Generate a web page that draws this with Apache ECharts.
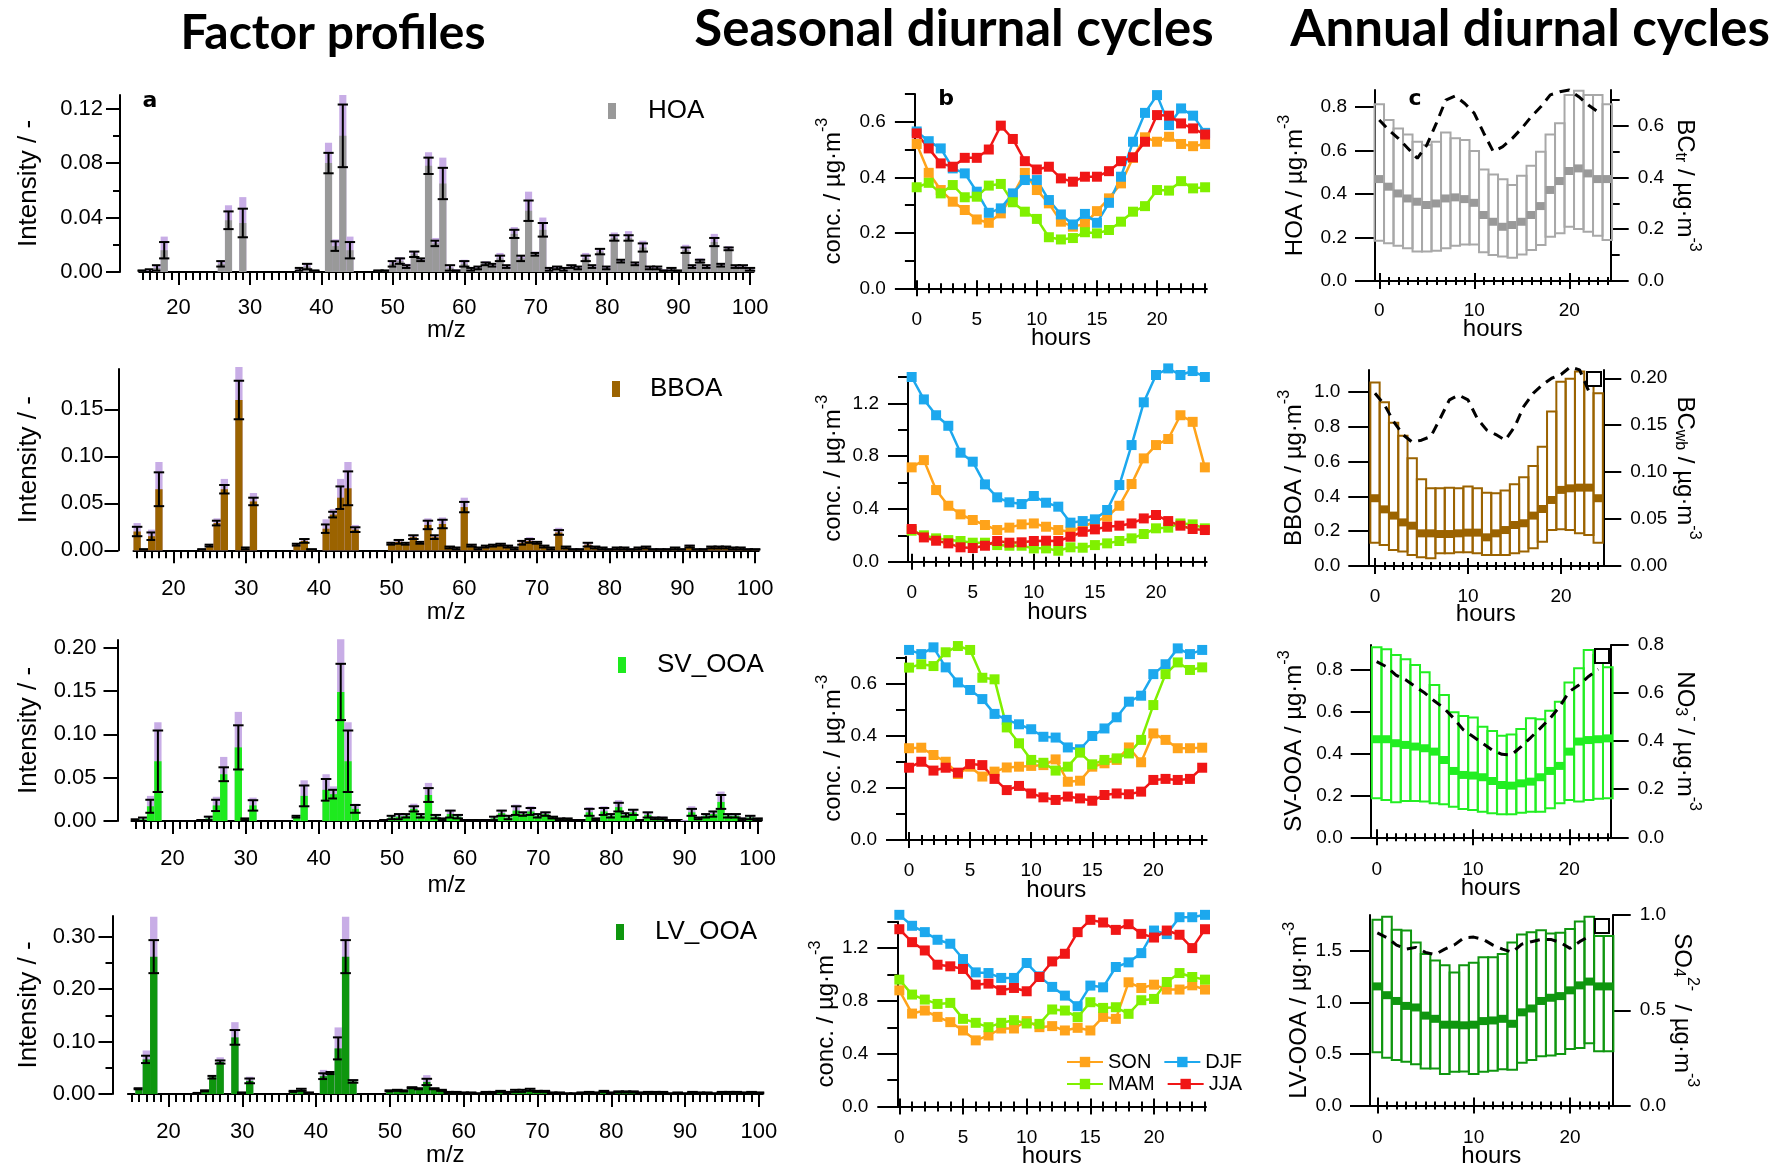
<!DOCTYPE html>
<html><head><meta charset="utf-8">
<script src="https://cdn.jsdelivr.net/npm/echarts@6/dist/echarts.min.js"></script>
<style>html,body{margin:0;padding:0;background:#fff}#c{width:1771px;height:1169px}</style>
</head><body><div id="c"></div>
<script>
// ---------------- DATA ----------------
const MZ = []; for (let m = 15; m <= 100; m++) MZ.push(m);
const HOURS = []; for (let h = 0; h <= 24; h++) HOURS.push(h);

// Factor profiles (m/z 15..100): value, error half-width, purple top
const HOA_val = [0.001,0.001,0.003,0.016,0,0,0,0,0,0, 0,0.006,0.038,0,0.036,0,0,0,0,0, 0,0,0.002,0.004,0.001,0,0.080,0.019,0.100,0.016, 0,0,0,0.001,0.001,0.006,0.008,0.004,0.013,0.009, 0.078,0.021,0.065,0.003,0.001,0.006,0.002,0.003,0.006,0.005, 0.010,0.004,0.028,0.010,0.045,0.013,0.031,0.002,0.003,0.002, 0.004,0.003,0.010,0.004,0.015,0.003,0.025,0.008,0.025,0.006, 0.018,0.003,0.003,0.001,0.002,0.001,0.016,0.004,0.008,0.004, 0.022,0.005,0.017,0.004,0.004,0.002];
const HOA_err = [0,0.001,0.002,0.006,0,0,0,0,0,0, 0,0.002,0.0065,0,0.0105,0,0,0,0,0, 0,0,0.001,0.002,0,0,0.0075,0.0035,0.023,0.006, 0,0,0,0,0,0.002,0.002,0.001,0.002,0.001, 0.006,0.002,0.0115,0.002,0,0.002,0.001,0.001,0.001,0.001, 0.002,0.001,0.003,0.002,0.0075,0.001,0.005,0.001,0.001,0.001, 0.001,0.001,0.002,0.001,0.002,0.001,0.002,0.001,0.002,0.001, 0.003,0.001,0.001,0,0.001,0,0.002,0.001,0.001,0.001, 0.003,0.001,0.001,0.001,0.001,0.001];
const HOA_top = [0.001,0.002,0.005,0.026,0,0,0,0,0,0, 0,0.008,0.049,0,0.055,0,0,0,0,0, 0,0,0.003,0.006,0.001,0,0.095,0.024,0.130,0.026, 0,0,0,0.001,0.001,0.008,0.011,0.006,0.015,0.010, 0.088,0.025,0.084,0.004,0.002,0.009,0.003,0.004,0.008,0.006, 0.014,0.005,0.033,0.012,0.059,0.015,0.040,0.003,0.004,0.003, 0.005,0.004,0.014,0.005,0.017,0.004,0.029,0.009,0.030,0.007, 0.023,0.004,0.004,0.002,0.003,0.001,0.020,0.005,0.010,0.005, 0.028,0.006,0.019,0.005,0.005,0.003];

const BBOA_val = [0.020,0.001,0.015,0.065,0,0,0,0,0,0.001, 0.005,0.029,0.065,0,0.160,0.002,0.052,0,0,0, 0,0,0.006,0.010,0.001,0,0.023,0.038,0.056,0.066, 0.022,0,0,0,0,0.007,0.009,0.007,0.014,0.008, 0.027,0.014,0.028,0.003,0.002,0.046,0.005,0.002,0.004,0.005, 0.006,0.004,0.002,0.008,0.010,0.008,0.004,0.002,0.019,0.003, 0.001,0.001,0.006,0.003,0.002,0.001,0.002,0.002,0.001,0.002, 0.003,0.001,0.001,0.001,0.002,0.001,0.004,0.001,0.001,0.003, 0.003,0.003,0.002,0.002,0.001,0.001];
const BBOA_err = [0.005,0,0.004,0.018,0,0,0,0,0,0, 0.001,0.0025,0.0045,0,0.0205,0.001,0.004,0,0,0, 0,0,0.001,0.002,0,0,0.0045,0.003,0.012,0.018, 0.0025,0,0,0,0,0.001,0.002,0.001,0.002,0.001, 0.0045,0.002,0.0045,0.001,0.001,0.0055,0.001,0.001,0.001,0.001, 0.001,0.001,0.001,0.002,0.002,0.001,0.001,0.001,0.0025,0.001, 0,0,0.002,0.001,0.001,0,0.001,0.001,0,0.001, 0.001,0,0,0,0.001,0,0.001,0,0,0.001, 0.001,0.001,0.001,0.001,0,0];
const BBOA_top = [0.029,0.001,0.022,0.094,0,0,0,0,0,0.001, 0.006,0.034,0.076,0,0.195,0.003,0.061,0,0,0, 0,0,0.007,0.013,0.001,0,0.033,0.044,0.076,0.094, 0.027,0,0,0,0,0.009,0.011,0.008,0.016,0.009, 0.034,0.016,0.035,0.004,0.003,0.056,0.006,0.003,0.005,0.006, 0.007,0.005,0.003,0.010,0.014,0.009,0.005,0.003,0.024,0.004, 0.002,0.002,0.008,0.004,0.003,0.002,0.003,0.003,0.002,0.003, 0.004,0.002,0.002,0.002,0.003,0.002,0.006,0.002,0.002,0.004, 0.004,0.004,0.003,0.003,0.002,0.001];

const SV_val = [0.001,0.002,0.017,0.069,0,0,0,0,0,0.001, 0.003,0.018,0.054,0,0.085,0.002,0.018,0,0,0, 0,0,0.005,0.029,0,0,0.036,0.031,0.149,0.069, 0.014,0,0,0,0.001,0.004,0.005,0.006,0.014,0.006, 0.030,0.005,0.002,0.008,0.005,0.001,0.001,0.001,0.001,0.003, 0.009,0.004,0.012,0.008,0.011,0.006,0.008,0.004,0.002,0.002, 0.001,0.001,0.010,0.002,0.011,0.006,0.016,0.007,0.010,0.001, 0.007,0.003,0.003,0.001,0.001,0,0.010,0.003,0.006,0.008, 0.022,0.006,0.006,0.002,0.004,0.002];
const SV_err = [0.001,0.002,0.0075,0.0355,0,0,0,0,0,0, 0.002,0.0065,0.008,0,0.0255,0.001,0.006,0,0,0, 0,0,0.001,0.012,0,0,0.0125,0.005,0.0325,0.0355, 0.0045,0,0,0,0,0.002,0.003,0.002,0.003,0.002, 0.008,0.002,0.001,0.004,0.002,0,0,0,0,0.002, 0.003,0.002,0.005,0.002,0.004,0.002,0.002,0.001,0.001,0.001, 0,0,0.004,0.001,0.004,0.002,0.005,0.002,0.003,0, 0.003,0.001,0.001,0,0,0,0.004,0.001,0.002,0.003, 0.008,0.002,0.002,0.001,0.002,0.001];
const SV_top = [0.002,0.004,0.029,0.114,0,0,0,0,0,0.001, 0.006,0.028,0.074,0,0.126,0.003,0.027,0,0,0, 0,0,0.007,0.047,0,0,0.054,0.040,0.210,0.114, 0.020,0,0,0,0.001,0.006,0.009,0.008,0.020,0.009, 0.044,0.008,0.003,0.013,0.008,0.001,0.001,0.001,0.002,0.005, 0.013,0.006,0.019,0.011,0.017,0.009,0.011,0.005,0.003,0.003, 0.002,0.002,0.016,0.004,0.017,0.009,0.024,0.010,0.014,0.002, 0.011,0.005,0.005,0.002,0.002,0.001,0.017,0.005,0.009,0.012, 0.034,0.009,0.009,0.004,0.007,0.003];

const LV_val = [0,0.010,0.066,0.262,0,0,0,0,0,0.002, 0.006,0.032,0.061,0,0.108,0.002,0.025,0,0,0, 0,0,0.005,0.008,0.002,0,0.034,0.040,0.087,0.262, 0.024,0,0,0,0,0.006,0.007,0.006,0.012,0.010, 0.023,0.010,0.007,0.003,0.003,0.002,0.002,0.001,0.003,0.003, 0.005,0.003,0.006,0.006,0.008,0.005,0.005,0.002,0.002,0.001, 0.001,0.002,0.003,0.002,0.005,0.002,0.004,0.004,0.004,0.002, 0.003,0.003,0.003,0.001,0.002,0.001,0.003,0.002,0.002,0.001, 0.003,0.003,0.003,0.002,0.003,0.002];
const LV_err = [0,0.001,0.007,0.0315,0,0,0,0,0,0, 0.001,0.0025,0.003,0,0.014,0.001,0.0045,0,0,0, 0,0,0.001,0.002,0.001,0,0.0055,0.002,0.021,0.0315, 0.0025,0,0,0,0,0.001,0.001,0.001,0.001,0.001, 0.006,0.001,0.001,0.001,0.001,0.001,0.001,0,0.001,0.001, 0.001,0.001,0.002,0.002,0.002,0.001,0.001,0.001,0.001,0, 0,0.001,0.001,0.001,0.001,0.001,0.001,0.001,0.001,0.001, 0.001,0.001,0.001,0,0.001,0,0.001,0.001,0.001,0, 0.001,0.001,0.001,0.001,0.001,0.001];
const LV_top = [0,0.011,0.083,0.338,0,0,0,0,0,0.003, 0.007,0.035,0.070,0,0.137,0.003,0.033,0,0,0, 0,0,0.006,0.011,0.003,0,0.046,0.044,0.127,0.338, 0.028,0,0,0,0,0.007,0.008,0.007,0.013,0.011, 0.036,0.011,0.008,0.004,0.004,0.003,0.003,0.002,0.004,0.004, 0.006,0.004,0.008,0.008,0.010,0.006,0.006,0.003,0.003,0.002, 0.002,0.003,0.004,0.003,0.006,0.003,0.005,0.005,0.005,0.003, 0.004,0.004,0.004,0.002,0.003,0.002,0.004,0.003,0.003,0.002, 0.004,0.004,0.004,0.003,0.004,0.003];

// Seasonal diurnal cycles (hours 0..24)
const HOA_SON = [0.52,0.416,0.354,0.312,0.282,0.248,0.236,0.27,0.336,0.416,0.354,0.306,0.24,0.222,0.232,0.278,0.324,0.378,0.47,0.544,0.528,0.546,0.52,0.512,0.52];
const HOA_DJF = [0.565,0.53,0.504,0.432,0.414,0.348,0.272,0.288,0.342,0.39,0.39,0.318,0.266,0.23,0.268,0.236,0.308,0.402,0.528,0.632,0.696,0.588,0.648,0.622,0.56];
const HOA_MAM = [0.364,0.38,0.342,0.372,0.328,0.33,0.37,0.376,0.31,0.276,0.25,0.184,0.176,0.181,0.202,0.198,0.21,0.24,0.276,0.296,0.354,0.352,0.386,0.36,0.364];
const HOA_JJA = [0.558,0.504,0.45,0.438,0.47,0.47,0.5,0.586,0.538,0.458,0.428,0.438,0.396,0.384,0.402,0.402,0.422,0.458,0.472,0.528,0.624,0.622,0.594,0.576,0.554];

const BBOA_SON = [0.715,0.77,0.543,0.424,0.359,0.316,0.278,0.24,0.258,0.283,0.29,0.265,0.24,0.227,0.265,0.303,0.341,0.424,0.589,0.783,0.884,0.93,1.11,1.06,0.715];
const BBOA_DJF = [1.40,1.23,1.11,1.03,0.826,0.758,0.586,0.488,0.45,0.437,0.498,0.447,0.417,0.296,0.308,0.321,0.392,0.581,0.884,1.208,1.415,1.465,1.415,1.445,1.40];
const BBOA_MAM = [0.235,0.2,0.177,0.164,0.157,0.144,0.144,0.126,0.121,0.121,0.101,0.101,0.083,0.109,0.106,0.126,0.139,0.157,0.177,0.21,0.253,0.258,0.29,0.283,0.253];
const BBOA_JJA = [0.248,0.184,0.159,0.139,0.109,0.104,0.121,0.157,0.144,0.147,0.157,0.159,0.157,0.189,0.227,0.245,0.265,0.273,0.29,0.328,0.354,0.308,0.273,0.248,0.24];

const SV_SON = [0.353,0.355,0.327,0.301,0.254,0.282,0.244,0.263,0.279,0.282,0.285,0.288,0.310,0.224,0.228,0.282,0.295,0.308,0.356,0.299,0.41,0.385,0.353,0.353,0.355];
const SV_DJF = [0.731,0.715,0.741,0.664,0.606,0.577,0.542,0.485,0.462,0.445,0.426,0.397,0.394,0.356,0.349,0.40,0.429,0.472,0.532,0.555,0.638,0.676,0.737,0.715,0.731];
const SV_MAM = [0.663,0.676,0.669,0.722,0.746,0.731,0.624,0.618,0.433,0.372,0.308,0.297,0.267,0.282,0.336,0.291,0.308,0.314,0.333,0.385,0.519,0.638,0.683,0.654,0.664];
const SV_JJA = [0.278,0.301,0.267,0.278,0.259,0.292,0.288,0.235,0.192,0.208,0.179,0.164,0.154,0.167,0.160,0.151,0.173,0.179,0.176,0.186,0.231,0.235,0.231,0.235,0.278];

const LV_SON = [0.88,0.704,0.727,0.679,0.639,0.576,0.501,0.538,0.591,0.591,0.647,0.601,0.609,0.576,0.596,0.576,0.679,0.664,0.941,0.898,0.923,0.886,0.886,0.918,0.886];
const LV_DJF = [1.452,1.369,1.321,1.263,1.233,1.117,1.016,1.011,0.974,0.974,1.087,0.986,0.906,0.84,0.76,0.916,0.903,1.057,1.092,1.162,1.333,1.306,1.434,1.434,1.452];
const LV_MAM = [0.961,0.848,0.81,0.777,0.785,0.664,0.634,0.601,0.634,0.654,0.629,0.626,0.735,0.727,0.677,0.79,0.747,0.752,0.702,0.805,0.815,0.943,1.011,0.981,0.961];
const LV_JJA = [1.343,1.245,1.182,1.074,1.062,1.042,0.923,0.931,0.881,0.898,0.873,0.981,1.099,1.157,1.321,1.414,1.394,1.338,1.381,1.308,1.28,1.333,1.301,1.2,1.343];

// Annual diurnal cycles: box low/high, median, tracer (dashed)
const HOA_lo  = [0.185,0.173,0.162,0.150,0.135,0.135,0.139,0.150,0.162,0.168,0.168,0.132,0.119,0.112,0.107,0.122,0.142,0.165,0.203,0.219,0.249,0.239,0.226,0.208,0.188];
const HOA_hi  = [0.812,0.739,0.70,0.673,0.639,0.624,0.639,0.682,0.655,0.647,0.597,0.512,0.489,0.467,0.441,0.483,0.529,0.593,0.673,0.724,0.854,0.873,0.854,0.854,0.812];
const HOA_med = [0.468,0.433,0.402,0.379,0.364,0.349,0.356,0.379,0.384,0.376,0.359,0.303,0.272,0.249,0.257,0.272,0.303,0.344,0.418,0.459,0.505,0.517,0.494,0.468,0.468];
const BC_tr   = [0.622,0.583,0.551,0.513,0.474,0.525,0.609,0.699,0.715,0.686,0.648,0.571,0.500,0.519,0.551,0.590,0.635,0.673,0.719,0.731,0.738,0.712,0.680,0.654];

const BBOA_lo  = [0.134,0.121,0.092,0.083,0.063,0.050,0.044,0.073,0.073,0.079,0.079,0.073,0.063,0.063,0.063,0.073,0.083,0.102,0.140,0.207,0.211,0.207,0.188,0.178,0.134];
const BBOA_hi  = [1.056,0.942,0.825,0.749,0.62,0.499,0.447,0.447,0.451,0.447,0.457,0.447,0.422,0.418,0.434,0.47,0.511,0.576,0.687,0.889,1.061,1.077,1.119,1.05,0.994];
const BBOA_med = [0.39,0.326,0.29,0.251,0.232,0.188,0.188,0.184,0.184,0.188,0.192,0.192,0.165,0.188,0.207,0.236,0.246,0.29,0.328,0.38,0.438,0.447,0.451,0.451,0.39];
const BC_wb    = [0.184,0.172,0.154,0.140,0.132,0.134,0.138,0.157,0.177,0.182,0.177,0.157,0.145,0.140,0.134,0.148,0.170,0.184,0.193,0.200,0.204,0.212,0.209,0.186];

const SVA_lo  = [0.186,0.178,0.167,0.173,0.173,0.170,0.162,0.157,0.146,0.135,0.130,0.122,0.114,0.110,0.110,0.117,0.122,0.122,0.138,0.162,0.178,0.170,0.178,0.183,0.186];
const SVA_hi  = [0.905,0.895,0.868,0.848,0.821,0.786,0.725,0.678,0.595,0.578,0.57,0.527,0.506,0.483,0.49,0.516,0.567,0.562,0.603,0.646,0.737,0.805,0.892,0.868,0.81];
const SVA_med = [0.467,0.467,0.448,0.44,0.432,0.424,0.408,0.368,0.316,0.297,0.294,0.286,0.268,0.249,0.246,0.257,0.265,0.286,0.316,0.34,0.408,0.456,0.463,0.467,0.471];
const NO3     = [0.731,0.71,0.675,0.655,0.627,0.6,0.567,0.537,0.495,0.447,0.419,0.391,0.363,0.345,0.343,0.377,0.415,0.454,0.495,0.544,0.606,0.634,0.669,0.699];

const LVA_lo  = [0.516,0.462,0.44,0.425,0.40,0.358,0.358,0.305,0.327,0.33,0.305,0.327,0.336,0.352,0.346,0.415,0.44,0.478,0.484,0.50,0.547,0.557,0.604,0.525,0.525];
const LVA_hi  = [1.799,1.83,1.704,1.695,1.579,1.469,1.406,1.358,1.289,1.358,1.384,1.437,1.437,1.469,1.579,1.657,1.679,1.698,1.667,1.673,1.711,1.783,1.83,1.642,1.642];
const LVA_med = [1.154,1.069,1.013,0.965,0.95,0.871,0.84,0.783,0.783,0.777,0.783,0.818,0.824,0.84,0.792,0.903,0.94,1.013,1.044,1.06,1.116,1.164,1.201,1.154,1.154];
const SO4     = [0.906,0.881,0.842,0.821,0.83,0.804,0.792,0.821,0.843,0.881,0.884,0.872,0.842,0.821,0.804,0.847,0.86,0.872,0.872,0.855,0.825,0.86,0.889];

// Tick values
const MZ_MAJ = [20,30,40,50,60,70,80,90,100];
const B_XMAJ = [0,5,10,15,20];
const C_XMAJ = [0,10,20];

// ---------------- STYLE / BUILD ----------------
const FONT = 'Liberation Sans, Arial, sans-serif';
const AX = {color:'#000', width:2};
const PURPLE = '#C8ADE6';
const C_SON = '#FFA31A', C_DJF = '#1CA8EE', C_MAM = '#80F000', C_JJA = '#F01616';
function rich(fs){
  return {
    b:{fontSize:fs, lineHeight:30, verticalAlign:'bottom', fontFamily:FONT, color:'#000'},
    sup:{fontSize:Math.round(fs*0.65), lineHeight:14, verticalAlign:'top', fontFamily:FONT, color:'#000'},
    sub:{fontSize:Math.round(fs*0.65), lineHeight:14, verticalAlign:'bottom', fontFamily:FONT, color:'#000'}
  };
}
const grids = [], xAxes = [], yAxes = [], series = [];

function yAx(gi, s, side, maj, min, dec, name, gap, off, labM, majLen, minLen, rot){
  const ybase = {type:'value', gridIndex:gi, min:0, max: side==='left'? s.ymax : s.yRmax, position:side, offset:off||0, splitLine:{show:false}};
  const idx = yAxes.length;
  yAxes.push(Object.assign({}, ybase, {
    axisLine:{show:true,onZero:false,lineStyle:AX},
    axisTick:{show:true,length:majLen,customValues:maj,lineStyle:AX},
    axisLabel:{show:true,customValues:maj,margin:labM,fontSize:s.fs,color:'#000',fontFamily:FONT,formatter:v=>Number(v).toFixed(dec)},
    name:name,nameLocation:'middle',nameGap:gap,nameRotate:rot,
    nameTextStyle:{fontSize:s.nfsY,color:'#000',fontFamily:FONT,rich:rich(s.nfsY)}
  }));
  if (min && min.length) {
    yAxes.push(Object.assign({}, ybase, {
      axisLine:{show:false,onZero:false},
      axisTick:{show:true,length:minLen,customValues:min,lineStyle:AX},
      axisLabel:{show:false}
    }));
  }
  return idx;
}

function buildPanel(s){
  const gi = grids.length;
  grids.push({left:s.l, top:s.t, width:s.w, height:s.h});
  const xi = xAxes.length;
  const base = {type:'value', gridIndex:gi, min:s.xmin, max:s.xmax, position:'bottom', splitLine:{show:false}};
  xAxes.push(Object.assign({}, base, {
    axisLine:{show:true,onZero:false,lineStyle:AX},
    axisTick:{show:true,length:s.xMajLen,customValues:s.xMaj,lineStyle:AX},
    axisLabel:{show:true,customValues:s.xMaj,margin:s.xLabM,fontSize:s.fs,color:'#000',fontFamily:FONT},
    name:s.xName,nameLocation:'middle',nameGap:s.xNameGap,nameMoveOverlap:false,
    nameTextStyle:{fontSize:s.nfsX,color:'#000',fontFamily:FONT}
  }));
  xAxes.push(Object.assign({}, base, {axisLine:{show:false,onZero:false}, axisTick:{show:true,length:s.xMinLen,customValues:s.xMin,lineStyle:AX}, axisLabel:{show:false}}));
  if (s.cross) {
    xAxes.push(Object.assign({}, base, {axisLine:{show:false,onZero:false}, axisTick:{show:true,inside:true,length:s.xMajLen,customValues:s.xMaj,lineStyle:AX}, axisLabel:{show:false}}));
    xAxes.push(Object.assign({}, base, {axisLine:{show:false,onZero:false}, axisTick:{show:true,inside:true,length:s.xMinLen,customValues:s.xMin,lineStyle:AX}, axisLabel:{show:false}}));
  }
  const yi = yAx(gi, s, 'left', s.yMaj, s.yMin, s.dec, s.yName, s.yNameGap, s.yoff, s.yLabM, s.yMajLen, s.yMinLen, 90);
  let yRi = null;
  if (s.yRMaj) yRi = yAx(gi, s, 'right', s.yRMaj, s.yRMin, s.decR, s.yRName, s.yRNameGap, 0, s.yRLabM, 18, 9, -90);
  return {xi, yi, yRi};
}

function profileSeries(name, vals, errs, tops, color, ax){
  return {
    type:'custom', name, xAxisIndex:ax.xi, yAxisIndex:ax.yi, itemStyle:{color}, silent:true,
    data: MZ.map((m,i)=>[m, vals[i], errs[i], tops[i]]),
    encode:{x:0,y:1},
    renderItem:(params, api)=>{
      const m=api.value(0), v=api.value(1), e=api.value(2), t=api.value(3);
      const ch=[];
      const b0=api.coord([m-0.5,0]), b1=api.coord([m+0.5,0]);
      const w=b1[0]-b0[0];
      if (t>0){const p=api.coord([m,t]); ch.push({type:'rect',shape:{x:b0[0],y:p[1],width:w,height:b0[1]-p[1]},style:{fill:PURPLE}});}
      if (v>0){
        const p=api.coord([m,v]);
        ch.push({type:'rect',shape:{x:b0[0],y:p[1],width:w,height:b0[1]-p[1]},style:{fill:color}});
        const lo=api.coord([m,Math.max(0,v-e)]), hi=api.coord([m,v+e]);
        const cx=(b0[0]+b1[0])/2, cw=w*0.72;
        const st={stroke:'#000',lineWidth:2};
        ch.push({type:'line',shape:{x1:cx,y1:lo[1],x2:cx,y2:hi[1]},style:st});
        ch.push({type:'line',shape:{x1:cx-cw,y1:lo[1],x2:cx+cw,y2:lo[1]},style:st});
        ch.push({type:'line',shape:{x1:cx-cw,y1:hi[1],x2:cx+cw,y2:hi[1]},style:st});
      }
      return {type:'group',children:ch};
    }
  };
}
function seasonSeries(name, vals, color, ax){
  return {type:'line', name, xAxisIndex:ax.xi, yAxisIndex:ax.yi, data:HOURS.map((h,i)=>[h, vals[i]]),
    symbol:'rect', symbolSize:10, showSymbol:true, clip:false,
    lineStyle:{color, width:2.5}, itemStyle:{color}};
}
function boxSeries(name, lo, hi, med, color, mcolor, ax){
  return {
    type:'custom', name, xAxisIndex:ax.xi, yAxisIndex:ax.yi, silent:true, itemStyle:{color},
    data: HOURS.map((h,i)=>[h, lo[i], hi[i], med[i]]), encode:{x:0,y:[1,2]},
    renderItem:(params, api)=>{
      const h=api.value(0), l=api.value(1), u=api.value(2), m=api.value(3);
      const p1=api.coord([h-0.5,u]), p2=api.coord([h+0.5,l]);
      const m1=api.coord([h-0.5,m]), m2=api.coord([h+0.5,m]);
      return {type:'group',children:[
        {type:'rect',shape:{x:p1[0],y:p1[1],width:p2[0]-p1[0],height:p2[1]-p1[1]},style:{fill:'none',stroke:color,lineWidth:2}},
        {type:'line',shape:{x1:m1[0],y1:m1[1],x2:m2[0],y2:m2[1]},style:{stroke:mcolor,lineWidth:8}}
      ]};
    }
  };
}
function dashSeries(name, vals, ax){
  return {type:'line', name, xAxisIndex:ax.xi, yAxisIndex:ax.yRi, data:vals.map((v,i)=>[HOURS[i], v]),
    symbol:'none', showSymbol:false, clip:false, silent:true,
    lineStyle:{color:'#000', width:3, type:[10,7]}};
}

// ---- Panel a (factor profiles)
const aCommon = {xmin:14.5, xmax:100.5, xMaj:MZ_MAJ, xMin:MZ, xMajLen:13, xMinLen:8, yMajLen:14, yMinLen:7, fs:22, nfsX:24, nfsY:26, dec:2, xName:'m/z', yName:'{b|Intensity / -}'};
const aHOA  = buildPanel(Object.assign({}, aCommon, {l:139.2, t:95, w:614.4, h:177, ymax:0.130, yoff:19.2, yMaj:[0,0.04,0.08,0.12], yMin:[0.02,0.06,0.10], xLabM:25, xNameGap:46, yLabM:17, yNameGap:78}));
const aBBOA = buildPanel(Object.assign({}, aCommon, {l:133.5, t:369, w:625.2, h:181.3, ymax:0.193, yoff:15, yMaj:[0,0.05,0.10,0.15], yMin:[], xLabM:28, xNameGap:50, yLabM:15, yNameGap:77}));
const aSV   = buildPanel(Object.assign({}, aCommon, {l:132.3, t:640, w:628.9, h:181, ymax:0.209, yoff:14.8, yMaj:[0,0.05,0.10,0.15,0.20], yMin:[], xLabM:27, xNameGap:52, yLabM:21, yNameGap:76}));
const aLV   = buildPanel(Object.assign({}, aCommon, {l:127.9, t:916, w:634.7, h:178, ymax:0.3395, yoff:15.4, yMaj:[0,0.1,0.2,0.3], yMin:[0.05,0.15,0.25], xLabM:27, xNameGap:49, yLabM:17, yNameGap:71}));

// ---- Panel b (seasonal)
const CONC = '{b|conc. / µg·m}{sup|-3}';
const bCommon = {xMaj:B_XMAJ, xMin:HOURS, xMajLen:8, xMinLen:5, cross:true, yMajLen:20, yMinLen:10, fs:19, nfsX:24, nfsY:24, dec:1, xName:'hours', yName:CONC, yLabM:29};
const bHOA  = buildPanel(Object.assign({}, bCommon, {l:914.9, t:94, w:292, h:194.3, xmin:-0.15, xmax:24.15, ymax:0.70, yMaj:[0,0.2,0.4,0.6], yMin:[0.1,0.3,0.5,0.7], xLabM:22, xNameGap:38, yNameGap:70}));
const bBBOA = buildPanel(Object.assign({}, bCommon, {l:908, t:375, w:298.7, h:186.7, xmin:-0.3, xmax:24.15, ymax:1.415, yMaj:[0,0.4,0.8,1.2], yMin:[0.2,0.6,1.0,1.4], xLabM:22, xNameGap:38.5, yNameGap:63}));
const bSV   = buildPanel(Object.assign({}, bCommon, {l:906, t:656.7, w:300.7, h:183.3, xmin:-0.25, xmax:24.37, ymax:0.705, yMaj:[0,0.2,0.4,0.6], yMin:[0.1,0.3,0.5,0.7], xLabM:21, xNameGap:38.5, yNameGap:61}));
const bLV   = buildPanel(Object.assign({}, bCommon, {l:897.3, t:921.7, w:308.7, h:185.6, xmin:-0.16, xmax:24.08, ymax:1.40, yMaj:[0,0.4,0.8,1.2], yMin:[0.2,0.6,1.0,1.4], xLabM:22, xNameGap:37.5, yNameGap:53}));

// ---- Panel c (annual)
const cCommon = {xMaj:C_XMAJ, xMin:HOURS, xMajLen:8, xMinLen:4, cross:true, yMajLen:20, yMinLen:10, fs:19, nfsX:24, nfsY:24, dec:1, xName:'hours', yLabM:28, yRLabM:27, xLabM:20};
const cHOA  = buildPanel(Object.assign({}, cCommon, {l:1375, t:90, w:235.7, h:191, xmin:-0.45, xmax:24.36, ymax:0.877, yRmax:0.738, xNameGap:36.5,
  yMaj:[0,0.2,0.4,0.6,0.8], yName:'{b|HOA / µg·m}{sup|-3}', yNameGap:68,
  yRMaj:[0,0.2,0.4,0.6], yRMin:[0.1,0.3,0.5,0.7], decR:1, yRName:'{b|BC}{sub|tr}{b| / µg·m}{sup|-3}', yRNameGap:62}));
const cBBOA = buildPanel(Object.assign({}, cCommon, {l:1368.3, t:370, w:235, h:196, xmin:-0.72, xmax:24.55, ymax:1.128, yRmax:0.2088, xLabM:21, xNameGap:36.5,
  yMaj:[0,0.2,0.4,0.6,0.8,1.0], yName:'{b|BBOA / µg·m}{sup|-3}', yNameGap:62,
  yRMaj:[0,0.05,0.10,0.15,0.20], yRMin:[], decR:2, yRName:'{b|BC}{sub|wb}{b| / µg·m}{sup|-3}', yRNameGap:69}));
const cSV   = buildPanel(Object.assign({}, cCommon, {l:1370.7, t:645, w:240, h:192.3, xmin:-0.62, xmax:24.3, ymax:0.9157, yRmax:0.8, xLabM:23, xNameGap:39.5,
  yMaj:[0,0.2,0.4,0.6,0.8], yName:'{b|SV-OOA / µg·m}{sup|-3}', yNameGap:64,
  yRMaj:[0,0.2,0.4,0.6,0.8], yRMin:[], decR:1, yRName:'{b|NO}{sub|3}{sup|-}{b| / µg·m}{sup|-3}', yRNameGap:62}));
const cLV   = buildPanel(Object.assign({}, cCommon, {l:1370, t:915, w:242.7, h:195.7, xmin:-0.76, xmax:24.43, ymax:1.846, yRmax:1.0, xLabM:23, xNameGap:38.5,
  yMaj:[0,0.5,1.0,1.5], yName:'{b|LV-OOA / µg·m}{sup|-3}', yNameGap:50,
  yRMaj:[0,0.5,1.0], yRMin:[], decR:1, yRName:'{b|SO}{sub|4}{sup|2-}{b|  / µg·m}{sup|-3}', yRNameGap:56}));

// ---- Series
series.push(profileSeries('HOA', HOA_val, HOA_err, HOA_top, '#999999', aHOA));
series.push(profileSeries('BBOA', BBOA_val, BBOA_err, BBOA_top, '#9B6300', aBBOA));
series.push(profileSeries('SV_OOA', SV_val, SV_err, SV_top, '#1EEA1E', aSV));
series.push(profileSeries('LV_OOA', LV_val, LV_err, LV_top, '#0E960E', aLV));

[[bHOA, HOA_SON, HOA_DJF, HOA_MAM, HOA_JJA],[bBBOA, BBOA_SON, BBOA_DJF, BBOA_MAM, BBOA_JJA],
 [bSV, SV_SON, SV_DJF, SV_MAM, SV_JJA],[bLV, LV_SON, LV_DJF, LV_MAM, LV_JJA]].forEach(r=>{
  series.push(seasonSeries('SON', r[1], C_SON, r[0]));
  series.push(seasonSeries('DJF', r[2], C_DJF, r[0]));
  series.push(seasonSeries('MAM', r[3], C_MAM, r[0]));
  series.push(seasonSeries('JJA', r[4], C_JJA, r[0]));
});

series.push(dashSeries('BCtr', BC_tr, cHOA));
series.push(boxSeries('HOA annual', HOA_lo, HOA_hi, HOA_med, '#A8A8A8', '#999999', cHOA));
series.push(dashSeries('BCwb', BC_wb, cBBOA));
series.push(boxSeries('BBOA annual', BBOA_lo, BBOA_hi, BBOA_med, '#9B6300', '#9B6300', cBBOA));
series.push(dashSeries('NO3', NO3, cSV));
series.push(boxSeries('SV-OOA annual', SVA_lo, SVA_hi, SVA_med, '#22EE22', '#22EE22', cSV));
series.push(dashSeries('SO4', SO4, cLV));
series.push(boxSeries('LV-OOA annual', LVA_lo, LVA_hi, LVA_med, '#0F960F', '#0F960F', cLV));

function facLegend(name, left, top, pad){
  return {data:[name], left, top, padding:0, selectedMode:false, icon:'rect', itemWidth:8, itemHeight:16,
    textStyle:{fontSize:26, color:'#000', fontFamily:FONT, padding:[0,0,0,pad]}};
}
function seaLegend(names, top){
  return {data:names, left:1066, top, padding:0, selectedMode:false, itemWidth:36, itemHeight:13, itemGap:12,
    textStyle:{fontSize:20, color:'#000', fontFamily:FONT}};
}

const option = {
  animation:false,
  backgroundColor:'#fff',
  textStyle:{fontFamily:FONT},
  grid:grids, xAxis:xAxes, yAxis:yAxes, series,
  legend:[facLegend('HOA',608,98,27), facLegend('BBOA',612,376,25), facLegend('SV_OOA',618,652,26), facLegend('LV_OOA',616,919,26),
          seaLegend(['SON','DJF'],1052), seaLegend(['MAM','JJA'],1074)],
  graphic:[
    {type:'text', x:333, y:34, style:{text:'Factor profiles', font:'bold 48px Lato', textAlign:'center', textVerticalAlign:'middle', fill:'#000'}},
    {type:'text', x:954, y:30, style:{text:'Seasonal diurnal cycles', font:'bold 51px Lato', textAlign:'center', textVerticalAlign:'middle', fill:'#000'}},
    {type:'text', x:1530, y:30, style:{text:'Annual diurnal cycles', font:'bold 51px Lato', textAlign:'center', textVerticalAlign:'middle', fill:'#000'}},
    {type:'text', x:150, y:101, style:{text:'a', font:'bold 22px "DejaVu Sans"', textAlign:'center', textVerticalAlign:'middle', fill:'#000'}},
    {type:'text', x:946, y:99, style:{text:'b', font:'bold 22px "DejaVu Sans"', textAlign:'center', textVerticalAlign:'middle', fill:'#000'}},
    {type:'text', x:1415, y:99, style:{text:'c', font:'bold 22px "DejaVu Sans"', textAlign:'center', textVerticalAlign:'middle', fill:'#000'}},
    {type:'rect', shape:{x:1587, y:372, width:14, height:14}, style:{fill:'#fff', stroke:'#000', lineWidth:2}, z:100},
    {type:'rect', shape:{x:1595, y:649, width:14, height:14}, style:{fill:'#fff', stroke:'#000', lineWidth:2}, z:100},
    {type:'rect', shape:{x:1595, y:919, width:14, height:14}, style:{fill:'#fff', stroke:'#000', lineWidth:2}, z:100}
  ]
};
const chart = echarts.init(document.getElementById('c'), null, {renderer:'canvas', width:1771, height:1169});
chart.setOption(option);
</script></body></html>
